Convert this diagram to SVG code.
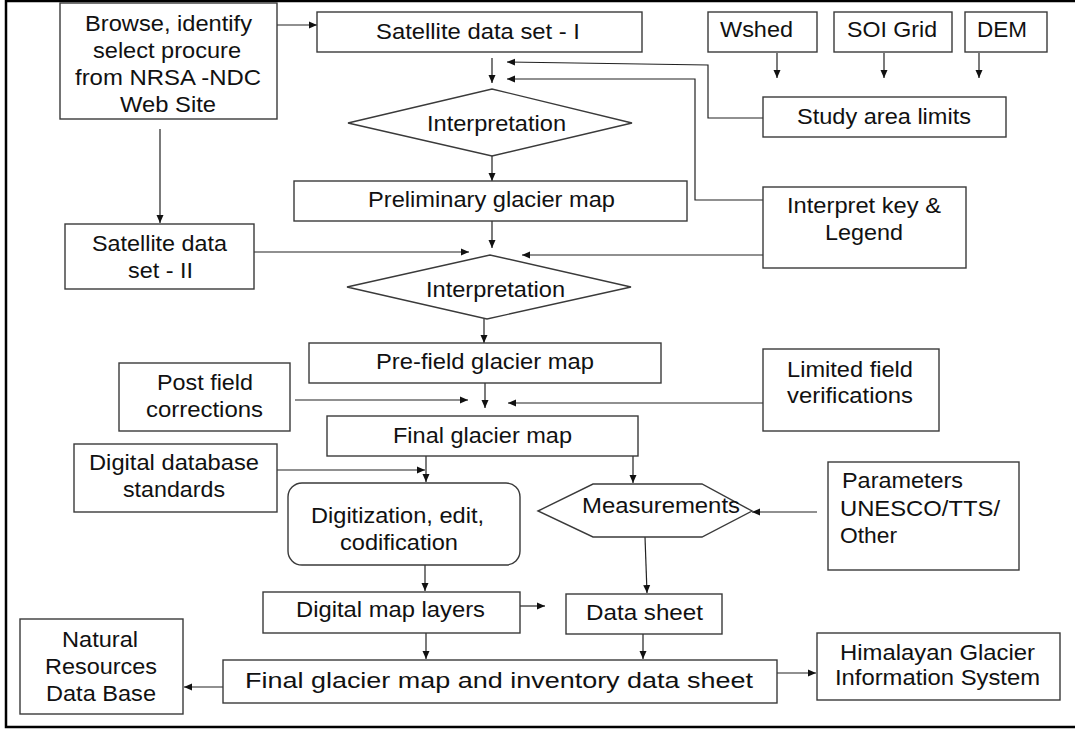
<svg xmlns="http://www.w3.org/2000/svg" width="1075" height="730" viewBox="0 0 1075 730">
<style>
.b{fill:#fff;stroke:#3a3a3a;stroke-width:1.4}
.t{font-family:"Liberation Sans",Arial,sans-serif;font-size:22px;fill:#111}
.c{fill:none;stroke:#222;stroke-width:1.2}
</style>
<defs>
<marker id="ah" markerUnits="userSpaceOnUse" markerWidth="9" markerHeight="8" refX="8" refY="4" orient="auto">
<path d="M0,0.5 L8,4 L0,7.5 z" fill="#111"/>
</marker>
</defs>
<rect width="1075" height="730" fill="#fff"/>
<path d="M1080,1 H6 V727 H1080" fill="none" stroke="#000" stroke-width="2.5"/>

<g id="connectors" class="c" marker-end="url(#ah)">
<path d="M277,25 H317"/>
<path d="M160,129 V223"/>
<path d="M492,58 V83"/>
<path d="M777,53 V78"/>
<path d="M884,53 V78"/>
<path d="M979,53 V78"/>
<path d="M763,118 H708 V65 L507,62"/>
<path d="M763,200 H695 V79 H507"/>
<path d="M763,255 H522"/>
<path d="M492,156 V181"/>
<path d="M492,221 V248"/>
<path d="M254,252 H469"/>
<path d="M484,319 V343"/>
<path d="M485,383 V408"/>
<path d="M295,400 H468"/>
<path d="M763,403 H508"/>
<path d="M426,456 V482"/>
<path d="M277,470 H425"/>
<path d="M633,456 V483"/>
<path d="M817,512 H752"/>
<path d="M645,537 L647,593"/>
<path d="M425,565 V591"/>
<path d="M520,606 H545"/>
<path d="M426,633 V659"/>
<path d="M643,634 V659"/>
<path d="M223,687 H184"/>
<path d="M777,673 H816"/>
</g>

<g id="browse"><rect class="b" x="60" y="3" width="217" height="116"/>
<text class="t" x="85" y="31" textLength="167" lengthAdjust="spacingAndGlyphs">Browse, identify</text>
<text class="t" x="93" y="58" textLength="148" lengthAdjust="spacingAndGlyphs">select procure</text>
<text class="t" x="75" y="85" textLength="186" lengthAdjust="spacingAndGlyphs">from NRSA -NDC</text>
<text class="t" x="120" y="112" textLength="96" lengthAdjust="spacingAndGlyphs">Web Site</text></g>

<g id="sat1"><rect class="b" x="317" y="12" width="325" height="40"/>
<text class="t" x="376" y="39" textLength="204" lengthAdjust="spacingAndGlyphs">Satellite data set - I</text></g>

<g id="wshed"><rect class="b" x="708" y="12" width="109" height="40"/>
<text class="t" x="720" y="37" textLength="73" lengthAdjust="spacingAndGlyphs">Wshed</text></g>

<g id="soi"><rect class="b" x="834" y="12" width="118" height="40"/>
<text class="t" x="847" y="37" textLength="90" lengthAdjust="spacingAndGlyphs">SOI Grid</text></g>

<g id="dem"><rect class="b" x="965" y="12" width="82" height="40"/>
<text class="t" x="977" y="37" textLength="50" lengthAdjust="spacingAndGlyphs">DEM</text></g>

<g id="study"><rect class="b" x="763" y="97" width="243" height="40"/>
<text class="t" x="797" y="124" textLength="174" lengthAdjust="spacingAndGlyphs">Study area limits</text></g>

<g id="interp1"><polygon class="b" points="348,123 492,89 632,123 492,156"/>
<text class="t" x="427" y="131" textLength="139" lengthAdjust="spacingAndGlyphs">Interpretation</text></g>

<g id="prelim"><rect class="b" x="294" y="181" width="393" height="40"/>
<text class="t" x="368" y="207" textLength="247" lengthAdjust="spacingAndGlyphs">Preliminary glacier map</text></g>

<g id="interpkey"><rect class="b" x="763" y="187" width="203" height="81"/>
<text class="t" x="787" y="213" textLength="154" lengthAdjust="spacingAndGlyphs">Interpret key &amp;</text>
<text class="t" x="825" y="240" textLength="78" lengthAdjust="spacingAndGlyphs">Legend</text></g>

<g id="sat2"><rect class="b" x="65" y="224" width="189" height="65"/>
<text class="t" x="92" y="251" textLength="135" lengthAdjust="spacingAndGlyphs">Satellite data</text>
<text class="t" x="128" y="278" textLength="65" lengthAdjust="spacingAndGlyphs">set - II</text></g>

<g id="interp2"><polygon class="b" points="347,287 490,255 631,287 487,319"/>
<text class="t" x="426" y="297" textLength="139" lengthAdjust="spacingAndGlyphs">Interpretation</text></g>

<g id="prefield"><rect class="b" x="309" y="343" width="352" height="40"/>
<text class="t" x="376" y="369" textLength="218" lengthAdjust="spacingAndGlyphs">Pre-field glacier map</text></g>

<g id="postfield"><rect class="b" x="119" y="363" width="171" height="68"/>
<text class="t" x="157" y="390" textLength="96" lengthAdjust="spacingAndGlyphs">Post field</text>
<text class="t" x="146" y="417" textLength="117" lengthAdjust="spacingAndGlyphs">corrections</text></g>

<g id="limited"><rect class="b" x="763" y="349" width="176" height="82"/>
<text class="t" x="787" y="377" textLength="126" lengthAdjust="spacingAndGlyphs">Limited field</text>
<text class="t" x="787" y="403" textLength="126" lengthAdjust="spacingAndGlyphs">verifications</text></g>

<g id="final"><rect class="b" x="327" y="416" width="311" height="40"/>
<text class="t" x="393" y="443" textLength="179" lengthAdjust="spacingAndGlyphs">Final glacier map</text></g>

<g id="dds"><rect class="b" x="74" y="444" width="203" height="68"/>
<text class="t" x="89" y="470" textLength="170" lengthAdjust="spacingAndGlyphs">Digital database</text>
<text class="t" x="123" y="497" textLength="102" lengthAdjust="spacingAndGlyphs">standards</text></g>

<g id="digitization"><rect class="b" x="288" y="483" width="232" height="82" rx="14" ry="14"/>
<text class="t" x="311" y="523" textLength="173" lengthAdjust="spacingAndGlyphs">Digitization, edit,</text>
<text class="t" x="340" y="550" textLength="118" lengthAdjust="spacingAndGlyphs">codification</text></g>

<g id="measurements"><polygon class="b" points="538,511 593,484 702,484 752,511 702,537 593,537"/>
<text class="t" x="582" y="513" textLength="158" lengthAdjust="spacingAndGlyphs">Measurements</text></g>

<g id="parameters"><rect class="b" x="828" y="462" width="191" height="108"/>
<text class="t" x="842" y="488" textLength="121" lengthAdjust="spacingAndGlyphs">Parameters</text>
<text class="t" x="840" y="516" textLength="160" lengthAdjust="spacingAndGlyphs">UNESCO/TTS/</text>
<text class="t" x="840" y="543" textLength="57" lengthAdjust="spacingAndGlyphs">Other</text></g>

<g id="dml"><rect class="b" x="263" y="592" width="257" height="41"/>
<text class="t" x="296" y="617" textLength="189" lengthAdjust="spacingAndGlyphs">Digital map layers</text></g>

<g id="datasheet"><rect class="b" x="566" y="594" width="156" height="40"/>
<text class="t" x="586" y="620" textLength="117" lengthAdjust="spacingAndGlyphs">Data sheet</text></g>

<g id="finalinv"><rect class="b" x="223" y="660" width="554" height="43"/>
<text class="t" x="245" y="688" textLength="508" lengthAdjust="spacingAndGlyphs">Final glacier map and inventory data sheet</text></g>

<g id="nrdb"><rect class="b" x="20" y="619" width="163" height="95"/>
<text class="t" x="62" y="647" textLength="76" lengthAdjust="spacingAndGlyphs">Natural</text>
<text class="t" x="45" y="674" textLength="112" lengthAdjust="spacingAndGlyphs">Resources</text>
<text class="t" x="46" y="701" textLength="110" lengthAdjust="spacingAndGlyphs">Data Base</text></g>

<g id="hgis"><rect class="b" x="817" y="633" width="243" height="67"/>
<text class="t" x="840" y="660" textLength="195" lengthAdjust="spacingAndGlyphs">Himalayan Glacier</text>
<text class="t" x="835" y="685" textLength="205" lengthAdjust="spacingAndGlyphs">Information System</text></g>
</svg>
